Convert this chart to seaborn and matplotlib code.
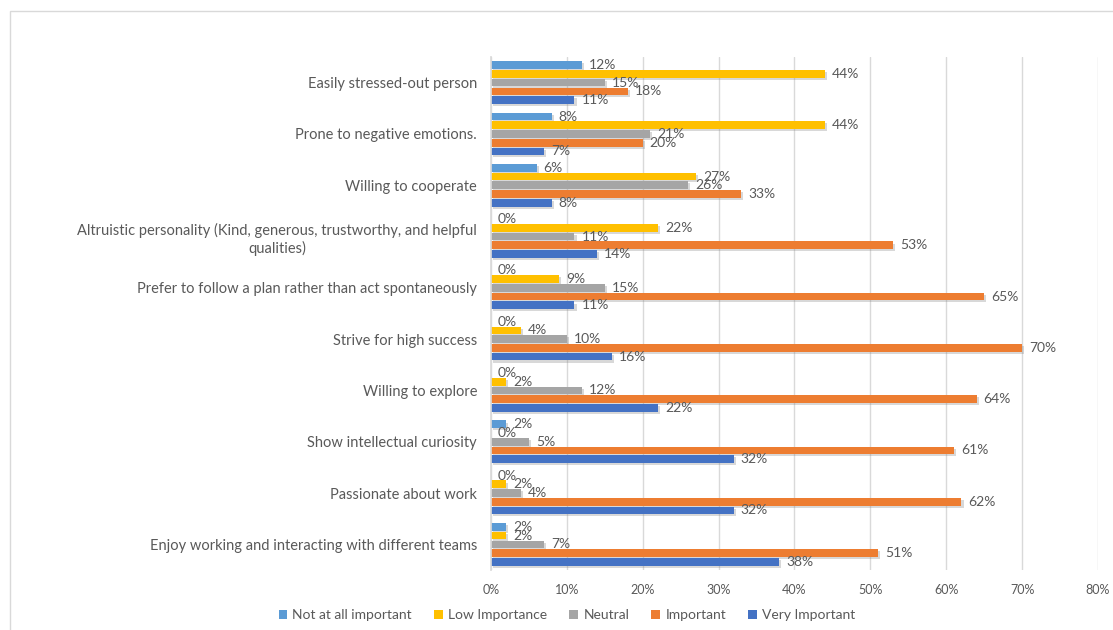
import matplotlib
matplotlib.use("Agg")
import matplotlib.pyplot as plt
import matplotlib.patheffects as pe
from matplotlib.patches import Rectangle
from matplotlib.ticker import FuncFormatter, MultipleLocator
import pandas as pd
import seaborn as sns

# Survey traits (top to bottom as shown)
categories = [
    "Easily stressed-out person",
    "Prone to negative emotions.",
    "Willing to cooperate",
    "Altruistic personality (Kind, generous, trustworthy, and helpful\nqualities)",
    "Prefer to follow a plan rather than act spontaneously",
    "Strive for high success",
    "Willing to explore",
    "Show intellectual curiosity",
    "Passionate about work",
    "Enjoy working and interacting with different teams",
]

series = ["Not at all important", "Low Importance", "Neutral", "Important", "Very Important"]

not_at_all = [12, 8, 6, 0, 0, 0, 0, 2, 0, 2]
low_importance = [44, 44, 27, 22, 9, 4, 2, 0, 2, 2]
neutral = [15, 21, 26, 11, 15, 10, 12, 5, 4, 7]
important = [18, 20, 33, 53, 65, 70, 64, 61, 62, 51]
very_important = [11, 7, 8, 14, 11, 16, 22, 32, 32, 38]

colors = ["#5B9BD5", "#FFC000", "#A5A5A5", "#ED7D31", "#4472C4"]
tick_values = [0, 10, 20, 30, 40, 50, 60, 70, 80]

values_by_series = [not_at_all, low_importance, neutral, important, very_important]
df = pd.DataFrame(
    [
        {"trait": cat, "level": s, "pct": vals[i]}
        for s, vals in zip(series, values_by_series)
        for i, cat in enumerate(categories)
    ]
)

sns.set_theme(style="white")
plt.rcParams["font.family"] = ["Lato", "DejaVu Sans"]
text_color = "#595959"

fig = plt.figure(figsize=(11.13, 6.3), dpi=100)
ax = fig.add_axes([491 / 1113, 1 - 570 / 630, (1098 - 491) / 1113, (570 - 57) / 630])

sns.barplot(
    data=df, y="trait", x="pct", hue="level", order=categories, hue_order=series,
    palette=colors, orient="h", width=0.85, gap=0.12, ax=ax, legend=False,
    saturation=1, linewidth=0,
)

shadow = [pe.SimplePatchShadow(offset=(1.5, -1.5), shadow_rgbFace="#808080", alpha=0.3), pe.Normal()]
for container in ax.containers:
    for bar in container:
        bar.set_linewidth(0)
        bar.set_path_effects(shadow)
    ax.bar_label(
        container,
        labels=[f"{v:.0f}%" for v in container.datavalues],
        padding=5, fontsize=10, color=text_color,
    )

ax.set_xlim(tick_values[0], tick_values[-1])
ax.xaxis.set_major_locator(MultipleLocator(10))
ax.xaxis.set_major_formatter(FuncFormatter(lambda x, _: f"{x:.0f}%"))
ax.grid(axis="x", color="#D9D9D9", linewidth=1)
ax.set_axisbelow(True)
ax.set_xlabel("")
ax.set_ylabel("")
for side in ["top", "right", "bottom"]:
    ax.spines[side].set_visible(False)
ax.spines["left"].set_color("#D9D9D9")
ax.tick_params(axis="x", length=0, labelsize=9, colors=text_color, pad=10)
ax.tick_params(axis="y", length=0, labelsize=10.5, colors=text_color, pad=10)
for lbl in ax.get_yticklabels():
    lbl.set_multialignment("center")

handles = [Rectangle((0, 0), 1, 1, facecolor=c, edgecolor="none") for c in colors]
fig.legend(
    handles, series, loc="center", bbox_to_anchor=(567 / 1113, 1 - 615 / 630),
    ncol=5, frameon=False, fontsize=10, handlelength=0.6, handleheight=0.6,
    handletextpad=0.4, columnspacing=1.6, labelcolor=text_color,
)

# Outer chart frame
fig.patches.append(
    Rectangle((10 / 1113, -0.05), 1.1, 1 - 11 / 630 + 0.05,
              transform=fig.transFigure, fill=False, edgecolor="#D9D9D9", linewidth=1)
)

fig.savefig("out.png", dpi=100)
